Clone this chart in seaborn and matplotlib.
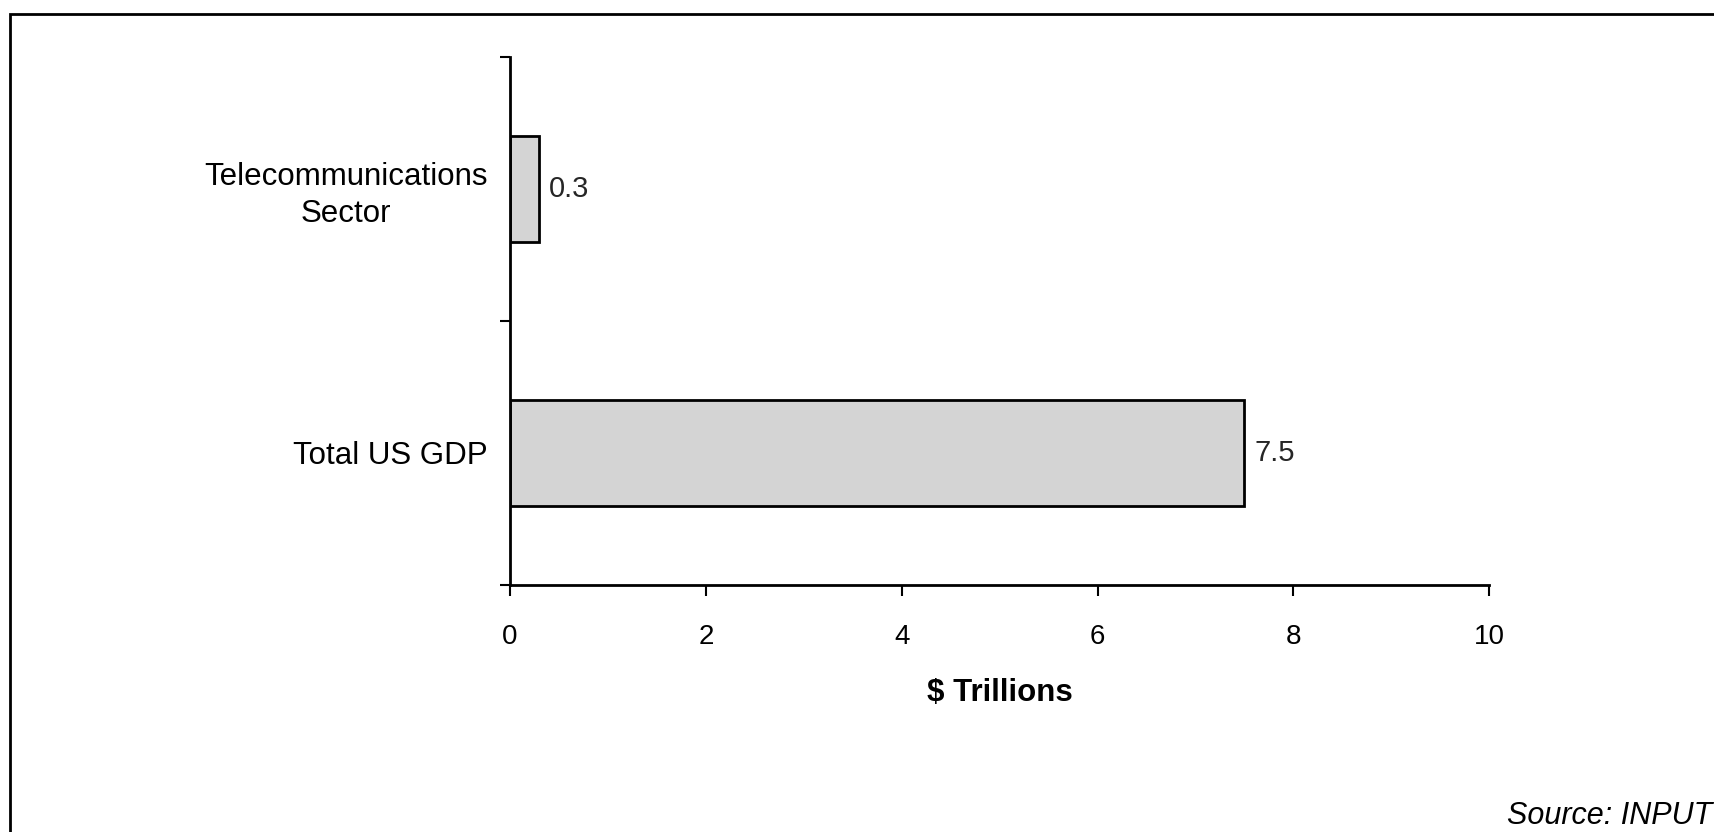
import matplotlib
matplotlib.use('Agg')
import matplotlib.pyplot as plt
import seaborn as sns
import pandas as pd
from matplotlib.patches import Rectangle

categories = ['Telecommunications\nSector', 'Total US GDP']
values = [0.3, 7.5]
value_labels = ['0.3', '7.5']
x_ticks = [0, 2, 4, 6, 8, 10]

df = pd.DataFrame({'category': categories, 'value': values})

sns.set_theme(style='white')
plt.rcParams['font.family'] = ['Liberation Sans', 'DejaVu Sans']

fig = plt.figure(figsize=(17.14, 8.32), dpi=100)
ax = fig.add_axes([0.2976, 0.2969, 0.5712, 0.6346])

sns.barplot(data=df, x='value', y='category', order=categories, orient='h',
            color='#d4d4d4', edgecolor='black', linewidth=2, width=0.4,
            saturation=1, errorbar=None, ax=ax)

ax.bar_label(ax.containers[0], labels=value_labels, padding=7, fontsize=21)

ax.set_xlim(0, 10)
ax.set_ylim(1.5, -0.5)
ax.set_xticks(x_ticks, labels=[str(t) for t in x_ticks])
ax.set_yticks([-0.5, 0.5, 1.5], labels=['', '', ''])
ax.set_yticks([0, 1], labels=categories, minor=True)
for lbl in ax.get_yticklabels(minor=True):
    lbl.set_multialignment('center')
    lbl.set_linespacing(1.3)

ax.tick_params(axis='x', which='major', direction='out', bottom=True, length=8,
               width=1.5, color='black', pad=20, labelsize=20, labelcolor='black')
ax.tick_params(axis='y', which='major', direction='out', left=True, length=7,
               width=1.5, color='black')
ax.tick_params(axis='y', which='minor', left=False, length=0, pad=16,
               labelsize=22.5, labelcolor='black')

ax.set_xlabel('$ Trillions', fontsize=22.5, fontweight='bold', color='black', labelpad=20)
ax.set_ylabel('')

ax.spines[['top', 'right']].set_visible(False)
for side in ['left', 'bottom']:
    ax.spines[side].set_linewidth(2)
    ax.spines[side].set_color('black')

# outer frame, cut off on the right and bottom like the scan
fig.add_artist(Rectangle((10 / 1714, -0.1), 2, 1 - 14 / 832 + 0.1,
                         transform=fig.transFigure, fill=False,
                         edgecolor='black', linewidth=2))

fig.text(1712 / 1714, 1 - 816 / 832, 'Source: INPUT', ha='right', va='center',
         style='italic', fontsize=22, color='black')

fig.savefig('out.png', dpi=100)
